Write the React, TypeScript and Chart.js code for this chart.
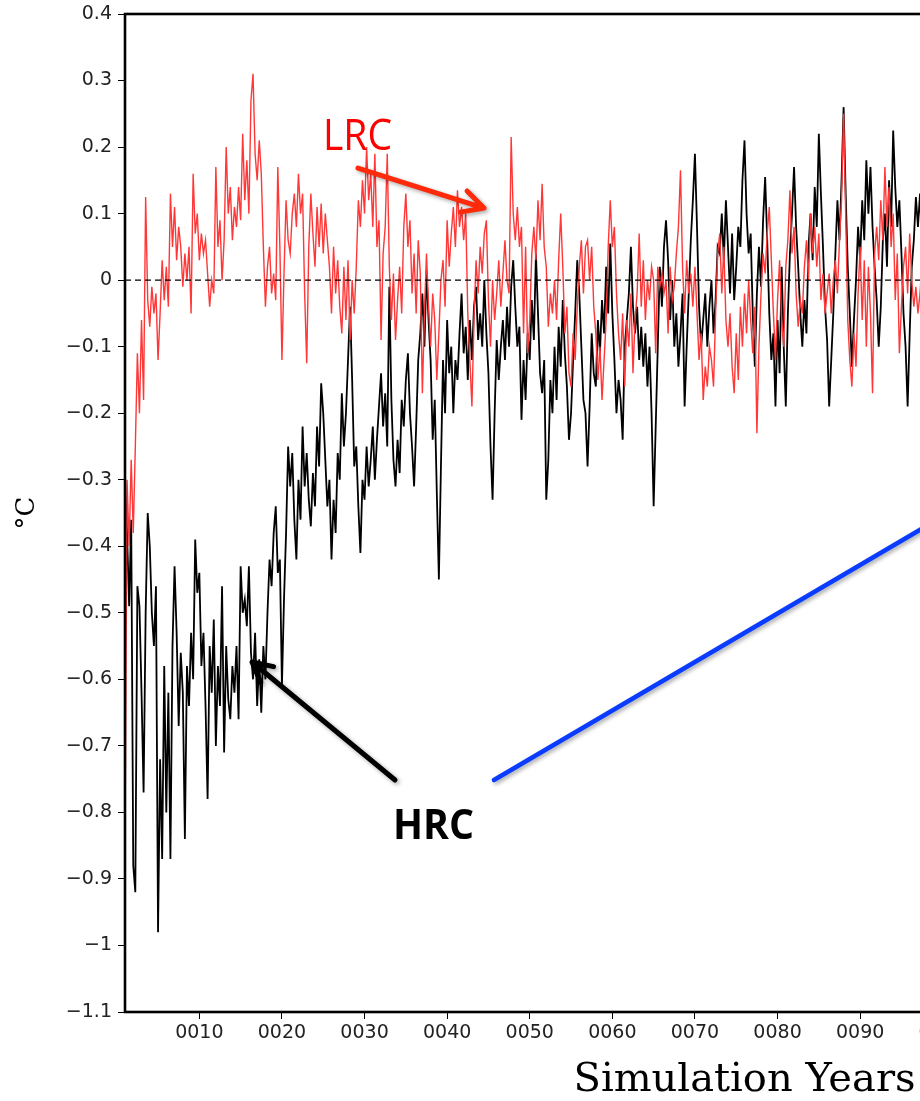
import React, { useEffect, useRef } from 'react';
import { Chart, registerables } from 'chart.js';

Chart.register(...registerables);

// ---------- data ----------
const startYear = 1;
const samplesPerYear = 4;
const xMinYear = 1;
const xMaxYear = 151;
const yMin = -1.1;
const yMax = 0.4;

const xTickYears = [10, 20, 30, 40, 50, 60, 70, 80, 90, 100, 110, 120, 130, 140, 150];
const yTickValues = [0.4, 0.3, 0.2, 0.1, 0, -0.1, -0.2, -0.3, -0.4, -0.5, -0.6, -0.7, -0.8, -0.9, -1, -1.1];

// HRC (black), quarterly samples from year 1
const hrcValues = [
  -0.30, -0.38, -0.49, -0.36, -0.88, -0.92, -0.46, -0.49, -0.62, -0.77, -0.50, -0.35,
  -0.40, -0.50, -0.55, -0.46, -0.98, -0.72, -0.87, -0.58, -0.80, -0.62, -0.87, -0.55,
  -0.43, -0.53, -0.67, -0.56, -0.62, -0.84, -0.58, -0.64, -0.53, -0.60, -0.39, -0.47,
  -0.44, -0.58, -0.53, -0.64, -0.78, -0.55, -0.62, -0.51, -0.70, -0.58, -0.64, -0.46,
  -0.71, -0.55, -0.63, -0.66, -0.58, -0.62, -0.55, -0.66, -0.43, -0.50, -0.48, -0.52,
  -0.43, -0.56, -0.60, -0.53, -0.64, -0.57, -0.65, -0.55, -0.60, -0.50, -0.42, -0.46,
  -0.38, -0.34, -0.44, -0.42, -0.61, -0.48, -0.38, -0.25, -0.31, -0.26, -0.36, -0.42,
  -0.30, -0.36, -0.22, -0.31, -0.26, -0.33, -0.37, -0.29, -0.34, -0.22, -0.28, -0.155,
  -0.20, -0.27, -0.34, -0.30, -0.42, -0.33, -0.38, -0.26, -0.30, -0.17, -0.25, -0.20,
  -0.12, -0.04, -0.15, -0.28, -0.25, -0.34, -0.41, -0.30, -0.33, -0.25, -0.31, -0.27,
  -0.22, -0.30, -0.24, -0.19, -0.14, -0.22, -0.17, -0.25, -0.01, -0.18, -0.27, -0.31,
  -0.24, -0.29, -0.18, -0.22, -0.15, -0.11, -0.20, -0.25, -0.31, -0.22, -0.12, -0.08,
  -0.02, -0.10, 0.015, -0.06, -0.12, -0.24, -0.18, -0.32, -0.45, -0.28, -0.12, -0.20,
  -0.06, -0.14, -0.10, -0.20, -0.12, -0.15, -0.08, -0.02, -0.11, -0.07, -0.15, -0.06,
  -0.12, -0.04, -0.01, -0.09, -0.05, -0.10, 0.00, -0.08, -0.14, -0.25, -0.33, -0.20,
  -0.09, -0.15, -0.10, -0.06, -0.12, -0.04, -0.10, -0.01, 0.03, -0.04, -0.10, -0.07,
  -0.21, -0.12, -0.18, -0.08, -0.12, -0.03, -0.09, 0.04, -0.05, -0.14, -0.17, -0.12,
  -0.33, -0.27, -0.15, -0.20, -0.10, -0.18, -0.07, -0.13, -0.03, -0.11, -0.16, -0.24,
  -0.20, -0.12, -0.05, 0.03, -0.02, -0.10, -0.18, -0.20, -0.28, -0.19, -0.08, -0.14,
  -0.16, -0.06, -0.11, -0.03, -0.08, 0.02, -0.05, 0.055, -0.05, -0.12, -0.20, -0.15,
  -0.18, -0.24, -0.10, -0.06, -0.02, 0.05, -0.04, -0.08, -0.04, -0.12, -0.07, -0.13,
  -0.08, -0.16, -0.10, -0.20, -0.34, -0.22, -0.10, 0.02, -0.04, 0.05, 0.09, 0.03,
  -0.06, 0.00, -0.10, -0.05, -0.13, -0.08, -0.02, -0.19, -0.10, -0.02, 0.06, 0.12,
  0.19, 0.08, -0.04, -0.10, -0.06, -0.02, -0.10, -0.04, 0.00, -0.08, -0.03, 0.05,
  0.04, 0.10, 0.03, 0.12, 0.05, -0.02, 0.07, -0.03, 0.02, 0.08, 0.05, 0.15,
  0.21, 0.10, 0.04, 0.07, -0.05, -0.13, -0.02, 0.05, -0.01, 0.09, 0.155, 0.06,
  -0.05, -0.12, -0.08, -0.19, -0.06, -0.14, 0.02, -0.10, -0.19, -0.05, 0.04, 0.10,
  0.17, 0.08, 0.02, -0.05, -0.10, -0.03, -0.08, 0.05, 0.10, 0.03, 0.14, 0.08,
  0.22, 0.13, 0.05, -0.04, -0.09, -0.19, -0.12, -0.05, 0.04, 0.12, 0.06, 0.15,
  0.26, 0.13, 0.02, -0.05, -0.13, -0.06, 0.00, 0.08, 0.03, 0.12, 0.06, 0.18,
  0.10, 0.17, 0.08, 0.02, -0.03, -0.10, -0.04, 0.06, 0.10, 0.02, 0.15, 0.08,
  0.225, 0.14, 0.08, 0.12, 0.04, -0.05, -0.10, -0.19, -0.08, 0.02, 0.06, 0.125,
  0.08, 0.13, 0.05, 0.10, 0.02, 0.08,
];

// LRC (red), quarterly samples from year 1
const lrcValues = [
  -0.85, -0.30, -0.40, -0.27, -0.38, -0.25, -0.11, -0.20, -0.06, -0.18, 0.125, -0.03,
  -0.07, -0.01, -0.05, -0.02, -0.12, -0.05, 0.03, -0.03, 0.02, -0.04, 0.13, 0.05,
  0.11, 0.03, 0.08, 0.05, -0.01, 0.04, 0.00, 0.05, -0.05, 0.16, 0.07, 0.10,
  0.03, 0.07, 0.04, 0.06, 0.01, -0.04, 0.00, -0.02, 0.17, 0.05, 0.09, 0.00,
  0.06, 0.20, 0.10, 0.14, 0.06, 0.11, 0.08, 0.14, 0.09, 0.22, 0.12, 0.18,
  0.10, 0.27, 0.31, 0.19, 0.15, 0.21, 0.16, 0.05, -0.04, 0.02, 0.05, -0.02,
  0.01, -0.03, 0.17, 0.05, -0.12, 0.01, 0.12, 0.06, 0.04, 0.10, 0.13, 0.08,
  0.16, 0.10, 0.13, -0.02, -0.125, 0.05, 0.13, 0.07, 0.02, 0.11, 0.05, 0.115,
  0.04, 0.10, 0.06, 0.02, -0.05, 0.05, -0.02, 0.03, -0.04, -0.08, 0.02, -0.06,
  0.03, -0.09, 0.00, -0.05, 0.02, 0.12, 0.08, 0.15, 0.10, 0.20, 0.12, 0.16,
  0.08, 0.19, 0.05, 0.09, -0.09, 0.04, 0.08, 0.19, 0.02, -0.06, 0.01, -0.09,
  -0.03, 0.02, -0.05, 0.08, 0.13, 0.05, 0.09, -0.02, 0.04, -0.05, 0.06, 0.01,
  -0.17, -0.05, 0.04, -0.04, -0.10, -0.02, -0.06, -0.15, -0.08, 0.00, 0.03, -0.04,
  0.09, 0.02, 0.07, 0.11, 0.05, 0.135, 0.08, 0.11, 0.06, 0.10, -0.05, -0.12,
  -0.19, -0.06, 0.03, -0.02, 0.05, 0.01, 0.07, 0.09, -0.03, -0.10, 0.00, -0.06,
  -0.02, 0.03, -0.04, 0.01, 0.06, 0.00, -0.02, 0.215, 0.10, 0.06, 0.11, 0.05,
  0.08, -0.08, 0.05, -0.11, -0.06, 0.04, 0.08, 0.03, 0.12, 0.06, 0.145, 0.05,
  0.02, -0.07, -0.02, -0.05, 0.00, -0.06, 0.03, 0.10, 0.02, -0.08, -0.04, -0.14,
  -0.16, -0.08, -0.12, -0.04, 0.02, 0.06, -0.02, 0.05, 0.06, 0.00, 0.05, -0.04,
  -0.08, -0.15, -0.10, -0.18, -0.12, -0.06, 0.05, 0.12, 0.05, 0.08, -0.02, -0.08,
  -0.12, -0.05, -0.16, -0.06, -0.10, -0.02, -0.14, -0.06, -0.02, 0.07, -0.04, 0.03,
  -0.06, 0.00, -0.03, 0.02, 0.00, -0.11, 0.02, -0.01, 0.01, -0.02, 0.00, -0.08,
  0.02, -0.03, -0.01, 0.04, 0.08, 0.165, 0.02, -0.05, 0.03, -0.02, 0.01, -0.04,
  0.02, -0.05, -0.12, -0.08, -0.18, -0.13, -0.16, -0.10, -0.12, -0.16, -0.05, 0.04,
  0.07, -0.02, 0.05, -0.06, -0.10, -0.05, -0.13, -0.17, -0.08, -0.15, -0.04, -0.10,
  -0.02, -0.08, 0.00, -0.06, -0.11, -0.04, -0.23, -0.10, -0.02, 0.04, 0.01, 0.07,
  0.11, 0.03, -0.05, -0.12, -0.03, 0.03, -0.06, -0.10, 0.02, 0.06, 0.135, 0.04,
  0.08, -0.02, -0.07, -0.03, -0.05, 0.02, 0.06, 0.00, 0.10, 0.04, 0.08, 0.02,
  0.07, -0.03, 0.01, -0.05, -0.02, 0.01, -0.05, 0.00, 0.03, -0.02, 0.06, 0.12,
  0.25, 0.10, -0.06, -0.12, -0.16, -0.08, -0.13, -0.02, 0.05, -0.06, 0.03, -0.10,
  0.02, -0.05, -0.17, 0.04, 0.08, 0.03, 0.12, 0.06, 0.17, 0.08, 0.14, 0.05,
  0.10, -0.03, 0.04, -0.11, -0.04, 0.02, 0.05, -0.02, 0.07, 0.00, -0.04, -0.01,
  -0.05, -0.02, 0.03, -0.03, 0.01, -0.04,
];

const zeroLineValue = 0;

// annotations, in data coordinates [year, value]
const lrcArrow = { from: [29.2, 0.1685], to: [44.46, 0.1084] };
const hrcArrow = { from: [33.69, -0.7513], to: [16.38, -0.574] };
const blueLine = { from: [45.67, -0.7513], to: [106.9, -0.305] };
const lrcLabel = { text: 'LRC', at: [24.97, 0.1956] };
const hrcLabel = { text: 'HRC', at: [33.45, -0.84] };

// ---------- helpers ----------
const toPoints = (vals: number[]) =>
  vals.map((v, i) => ({ x: startYear + i / samplesPerYear, y: v }));

const fmtY = (v: number) => {
  const r = Math.round(v * 10) / 10;
  let s = String(r);
  if (s === '-0') s = '0';
  return s.replace('-', '\u2212');
};

const frameAndNotes = {
  id: 'frameAndNotes',
  afterDatasetsDraw(chart: any) {
    const { ctx, chartArea } = chart;
    ctx.save();
    ctx.strokeStyle = '#000';
    ctx.lineWidth = 2.6;
    ctx.strokeRect(chartArea.left, chartArea.top, chartArea.right - chartArea.left, chartArea.bottom - chartArea.top);
    ctx.restore();
  },
  afterDraw(chart: any) {
    const { ctx } = chart;
    const xs = chart.scales.x;
    const ys = chart.scales.y;
    const px = (p: number[]) => [xs.getPixelForValue(p[0]), ys.getPixelForValue(p[1])];

    const arrow = (a: any, color: string, width: number, head: number) => {
      const [x0, y0] = px(a.from);
      const [x1, y1] = px(a.to);
      const ang = Math.atan2(y1 - y0, x1 - x0);
      ctx.save();
      ctx.strokeStyle = color;
      ctx.lineWidth = width;
      ctx.lineCap = 'round';
      ctx.lineJoin = 'round';
      ctx.shadowColor = 'rgba(0,0,0,0.35)';
      ctx.shadowBlur = 4;
      ctx.shadowOffsetX = 2;
      ctx.shadowOffsetY = 2;
      ctx.beginPath();
      ctx.moveTo(x0, y0);
      ctx.lineTo(x1, y1);
      if (head > 0) {
        const spread = 0.48;
        ctx.moveTo(x1 - head * Math.cos(ang - spread), y1 - head * Math.sin(ang - spread));
        ctx.lineTo(x1, y1);
        ctx.lineTo(x1 - head * Math.cos(ang + spread), y1 - head * Math.sin(ang + spread));
      }
      ctx.stroke();
      ctx.restore();
    };

    arrow(lrcArrow, '#ff2a0a', 5, 24);
    arrow(hrcArrow, '#000000', 5, 22);
    arrow(blueLine, '#0a3cff', 4.5, 0);

    const label = (l: any, color: string, font: string, width: number) => {
      const [x, y] = px(l.at);
      ctx.save();
      ctx.font = font;
      ctx.fillStyle = color;
      ctx.textBaseline = 'alphabetic';
      ctx.textAlign = 'left';
      const w = ctx.measureText(l.text).width;
      ctx.translate(x, y);
      ctx.scale(width / w, 1);
      ctx.fillText(l.text, 0, 0);
      ctx.restore();
    };
    label(lrcLabel, '#ff0000', '43px "Open Sans"', 69);
    label(hrcLabel, '#000000', 'bold 42px "Open Sans"', 81);
  },
};

export default function App() {
  const ref = useRef<HTMLCanvasElement | null>(null);

  useEffect(() => {
    if (!ref.current) return;
    const tickFont = { family: '"DejaVu Sans", sans-serif', size: 19 };
    const chart = new Chart(ref.current, {
      type: 'line',
      data: {
        datasets: [
          {
            label: 'zero',
            data: [
              { x: xMinYear, y: zeroLineValue },
              { x: xMaxYear, y: zeroLineValue },
            ],
            borderColor: '#000',
            borderWidth: 1.2,
            borderDash: [6, 4],
            pointRadius: 0,
            order: 0,
          },
          {
            label: 'LRC',
            data: toPoints(lrcValues),
            borderColor: 'rgb(255,55,55)',
            borderWidth: 1.4,
            pointRadius: 0,
            order: 1,
          },
          {
            label: 'HRC',
            data: toPoints(hrcValues),
            borderColor: '#000',
            borderWidth: 1.8,
            pointRadius: 0,
            order: 2,
          },
        ],
      },
      options: {
        animation: false,
        responsive: false,
        events: [],
        layout: { padding: { left: 0, top: 14, right: 16, bottom: 0 } },
        elements: { line: { tension: 0 } },
        plugins: { legend: { display: false }, tooltip: { enabled: false } },
        scales: {
          x: {
            type: 'linear',
            min: xMinYear,
            max: xMaxYear,
            afterBuildTicks: (s: any) => {
              s.ticks = xTickYears.map((v) => ({ value: v }));
            },
            afterFit: (s: any) => {
              s.height = 89;
              s.paddingLeft = 0;
              s.paddingRight = 0;
            },
            ticks: {
              autoSkip: false,
              maxRotation: 0,
              padding: 3,
              color: '#222',
              font: tickFont,
              callback: (v: any) => String(v).padStart(4, '0'),
            },
            grid: { drawOnChartArea: false, drawTicks: true, tickLength: 7, color: '#000', lineWidth: 1 },
            border: { display: false },
            title: {
              display: true,
              text: 'Simulation Years',
              color: '#000',
              font: { family: '"DejaVu Serif", serif', size: 40, lineHeight: 1 },
              padding: 0,
            },
          },
          y: {
            type: 'linear',
            min: yMin,
            max: yMax,
            afterBuildTicks: (s: any) => {
              s.ticks = yTickValues.map((v) => ({ value: v }));
            },
            afterFit: (s: any) => {
              s.width = 125;
              s.paddingTop = 0;
              s.paddingBottom = 0;
            },
            ticks: {
              autoSkip: false,
              padding: 6,
              color: '#222',
              font: tickFont,
              callback: (v: any) => fmtY(Number(v)),
            },
            grid: { drawOnChartArea: false, drawTicks: true, tickLength: 7, color: '#000', lineWidth: 1 },
            border: { display: false },
            title: {
              display: true,
              text: '\u00B0C',
              color: '#000',
              font: { family: '"DejaVu Serif", serif', size: 26, lineHeight: 1 },
              padding: { top: 14, bottom: 0 },
            },
          },
        },
      },
      plugins: [frameAndNotes],
    } as any);
    return () => chart.destroy();
  }, []);

  return (
    <div
      style={{
        position: 'fixed',
        left: 0,
        top: 0,
        width: 920,
        height: 1101,
        overflow: 'hidden',
        background: '#fff',
      }}
    >
      <canvas ref={ref} width={1380} height={1101} style={{ display: 'block', width: 1380, height: 1101 }} />
    </div>
  );
}
